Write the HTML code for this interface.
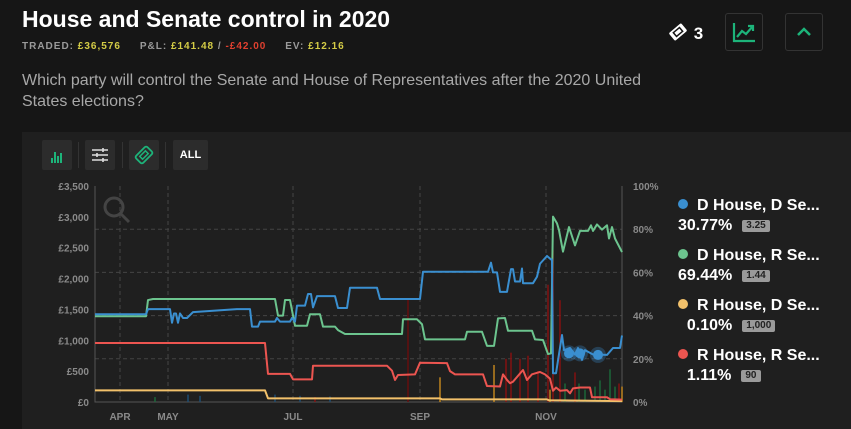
<!DOCTYPE html>
<html><head><meta charset="utf-8"><style>
body{margin:0;width:851px;height:429px;background:#161616;font-family:"Liberation Sans",sans-serif;overflow:hidden;position:relative;color:#fff}
.abs{position:absolute}
h1{position:absolute;left:22px;top:6px;margin:0;font-size:23px;font-weight:bold;color:#fff}
.stats{left:22px;top:41px;font-size:10px;font-weight:bold;letter-spacing:1px;color:#9a9a9a}
.y{color:#d4cc46}.r{color:#e0402f}
.desc{left:22px;top:70px;font-size:16px;color:#a8a8a8;line-height:21px;width:640px}
.btn{width:38px;height:38px;border:1px solid #333;border-radius:3px;box-sizing:border-box}
.panel{left:22px;top:132px;width:829px;height:297px;background:#1f1f1f}
.tb{top:140px;width:30px;height:30px;background:#2c2c2c;border-radius:2px}
.sep{top:142px;width:1px;height:26px;background:#333}
.leg{font-weight:bold;font-size:16px;color:#fff;line-height:20px}
.dot{display:inline-block;width:10px;height:10px;border-radius:50%;margin-right:9px;vertical-align:1px}
.badge{display:inline-block;background:#9a9a9a;color:#222;font-size:10px;padding:0 4px;border-radius:2px;line-height:12px;vertical-align:middle;margin-left:10px}
</style></head><body>
<h1>House and Senate control in 2020</h1>
<div class="abs stats">TRADED: <span class="y">£36,576</span>&nbsp;&nbsp;&nbsp;&nbsp; P&amp;L: <span class="y">£141.48</span> / <span class="r">-£42.00</span>&nbsp;&nbsp;&nbsp;&nbsp; EV: <span class="y">£12.16</span></div>
<div class="abs desc">Which party will control the Senate and House of Representatives after the 2020 United States elections?</div>
<div class="abs" style="left:667px;top:22px;font-size:17px;font-weight:bold"><svg width="22" height="20" viewBox="0 0 22 20" style="vertical-align:-3px"><g transform="rotate(-40 11 10)"><rect x="3" y="5" width="16" height="10" rx="1.5" fill="#fff"/><rect x="7" y="7.5" width="8" height="5" fill="none" stroke="#161616" stroke-width="1.5"/></g></svg> 3</div>
<div class="abs btn" style="left:725px;top:13px"><svg width="36" height="36"><path d="M8 9V27H29" stroke="#1db47a" stroke-width="2.2" fill="none"/><path d="M11 23L16 17L20 20L27 12M22 12H27V17" stroke="#1db47a" stroke-width="2.2" fill="none"/></svg></div>
<div class="abs btn" style="left:785px;top:13px"><svg width="36" height="36"><path d="M12 21L18 15L24 21" stroke="#1db47a" stroke-width="2.5" fill="none"/></svg></div>
<div class="abs panel"></div>
<div class="abs tb" style="left:42px"><svg width="30" height="30"><g fill="#1db47a"><rect x="9" y="18" width="2" height="5"/><rect x="12" y="12" width="2" height="11"/><rect x="15" y="16" width="2" height="7"/><rect x="18" y="13" width="2" height="10"/></g></svg></div>
<div class="abs sep" style="left:78px"></div>
<div class="abs tb" style="left:85px"><svg width="30" height="30"><g stroke="#ddd" stroke-width="1.6"><path d="M7 10H23M7 15H23M7 20H23"/><path d="M18 8V12M12 13V17M18 18V22"/></g></svg></div>
<div class="abs sep" style="left:122px"></div>
<div class="abs tb" style="left:129px"><svg width="30" height="30"><g transform="rotate(-45 15 15)"><rect x="7" y="10" width="16" height="10" rx="2" fill="none" stroke="#1db47a" stroke-width="1.8"/><rect x="11" y="13" width="8" height="4" fill="none" stroke="#1db47a" stroke-width="1.5"/></g></svg></div>
<div class="abs sep" style="left:165px"></div>
<div class="abs tb" style="left:173px;width:35px;font-size:11px;font-weight:bold;line-height:30px;text-align:center">ALL</div>

<svg id="chart" class="abs" style="left:0;top:0" width="851" height="429"></svg>

<div class="abs" style="left:678px;top:196px">
<div class="leg"><span class="dot" style="background:#3a8fd0"></span>D House, D Se...<br>30.77%<span class="badge">3.25</span></div>
<div class="leg" style="margin-top:10px"><span class="dot" style="background:#6cc48e"></span>D House, R Se...<br>69.44%<span class="badge">1.44</span></div>
<div class="leg" style="margin-top:10px"><span class="dot" style="background:#f2c16b"></span>R House, D Se...<br>&nbsp;&nbsp;0.10%<span class="badge">1,000</span></div>
<div class="leg" style="margin-top:10px"><span class="dot" style="background:#ec5550"></span>R House, R Se...<br>&nbsp;&nbsp;1.11%<span class="badge">90</span></div>
</div>

<script>
const monthLabels=["APR","MAY","JUL","SEP","NOV"];
const monthT=[25,73,198,325,451];
const leftTicks=["£0","£500","£1,000","£1,500","£2,000","£2,500","£3,000","£3,500"];
const leftVals=[0,500,1000,1500,2000,2500,3000,3500];
const rightTicks=["0%","20%","40%","60%","80%","100%"];
const rightVals=[0,20,40,60,80,100];
const blueT=[0,51,53,75,77,79,81,83,85,88,92,98,142,155,157,163,165,180,182,185,195,197,200,202,210,213,216,218,222,240,243,252,255,282,285,325,328,393,396,398,402,405,412,416,418,420,425,427,428,438,442,445,452,456,457,458,461,467,469,475,480,483,487,490,498,512,518,525,527];
const blueV=[40.6,40.6,43,43,36.7,41,41,36.7,41,38.9,38.9,41.6,43,43,34.9,34.9,37.2,37.2,38.9,37.2,37.2,38.9,37.2,44.6,44.6,50,50,43.8,49,49,43.5,43.5,52.9,52.9,47.7,47.7,60.3,60.3,64.5,60,60,51,51,61.5,61.5,55.8,55.8,61.8,55,55,58,64,67.6,66,66,13.3,13.3,31,24,25,22,25,19.5,24,22,21.8,25,25,30.8];
const greenT=[0,51,53,58,180,183,188,190,195,200,212,215,225,228,240,243,250,307,308,322,327,330,370,372,387,392,399,403,410,413,437,440,448,453,456,458,462,464,468,474,480,485,493,496,498,502,507,512,514,517,520,527];
const greenV=[39.7,39.7,47.2,47.7,47.7,40,40,47.2,47.2,35.3,35.3,40.6,40.6,34.9,34.9,33.3,31.5,31.5,38.3,38.3,36,29,29,32.5,32.5,26,26,38.7,38.9,33,33,29,28.7,22.2,22.5,85.8,82.7,79.6,69.6,81,72.5,79.2,79.2,81.8,79.2,82.2,79.8,81.8,75.7,81,75.7,69.4];
const redT=[0,170,173,195,198,217,218,292,297,300,303,320,325,352,355,360,388,392,405,408,412,415,418,428,432,437,445,450,455,458,461,465,472,475,478,485,495,497,512,515,527];
const redV=[27.3,27.3,13,13,10.5,10.5,16.8,16.8,14.5,10.2,12.5,12.8,18.2,18,14.3,12.8,12.8,7.4,7.2,12.8,10.2,8.7,9.4,14.8,10.2,12.8,13.9,12.8,10.8,5.2,6.7,5.2,5.5,4,6.3,6.7,6.7,2.2,2.2,1.3,1.1];
const yellowT=[0,170,173,345,347,452,454,527];
const yellowV=[5.4,5.4,1.7,1.7,1.2,1.2,0.8,0.4];
const volT=[313,345,399,411,416,425,433,443,453,455,458,465,470,480,484,490,500,505,510,515,520,524,527,60,93,105,180,205,220,235];
const volV=[1680,400,600,700,800,700,750,500,1900,200,2460,1650,300,480,300,200,250,350,200,530,250,300,250,80,120,100,120,100,80,90];
const volC=["#6a0d0d","#c98a1e","#c98a1e","#8a0f0f","#8a0f0f","#8a0f0f","#8a0f0f","#8a0f0f","#8a0f0f","#c98a1e","#8a0f0f","#8a0f0f","#1b6b3a","#8a0f0f","#1b6b3a","#1b6b3a","#1b6b3a","#1b6b3a","#1b6b3a","#1b6b3a","#1b6b3a","#8a0f0f","#c98a1e","#1b6b3a","#1d4f77","#1d4f77","#1d4f77","#1d4f77","#8a0f0f","#1d4f77"];
const dotT=[474,485,503];
const dotV=[22.5,22.5,21.8];

const X0=95,X1=622,Y0=402,Y1=186;
const xs=t=>X0+t*(X1-X0)/527;
const yp=p=>Y0-p*(Y0-Y1)/100;
const yl=v=>Y0-v*(Y0-Y1)/3500;
const svg=document.getElementById('chart');
const NS='http://www.w3.org/2000/svg';
function mk(tag,attrs){const e=document.createElementNS(NS,tag);for(const k in attrs)e.setAttribute(k,attrs[k]);svg.appendChild(e);return e;}
rightVals.forEach((v,i)=>{
 if(v>0&&v<100){const g=mk('line',{x1:X0,x2:X1,y1:yp(v),y2:yp(v),stroke:'#444','stroke-dasharray':'4,3'});
 
 }
 const t=mk('text',{x:633,y:yp(v)+4,fill:'#8a8a8a','font-size':10,'font-weight':'bold'});t.textContent=rightTicks[i];
 
 
});
leftVals.forEach((v,i)=>{
 const t=mk('text',{x:89,y:yl(v)+4,fill:'#8a8a8a','font-size':10,'font-weight':'bold','text-anchor':'end'});t.textContent=leftTicks[i];
 
 
});
monthT.forEach((m,i)=>{
 const g=mk('line',{x1:xs(m),x2:xs(m),y1:Y1,y2:Y0,stroke:'#444','stroke-dasharray':'4,3'});
 
 
 const t=mk('text',{x:xs(m),y:420,fill:'#8a8a8a','font-size':10,'font-weight':'bold','text-anchor':'middle'});t.textContent=monthLabels[i];
 
 
});
const ax=mk('path',{d:`M${X0} ${Y1}V${Y0}H${X1}V${Y1}`,stroke:'#555',fill:'none'});


const zm=mk('g',{stroke:'#444','stroke-width':3,fill:'none'});
zm.innerHTML='<circle cx="114" cy="207" r="9"/><line x1="121" y1="214" x2="129" y2="222"/>';


volT.forEach((t,i)=>{
 const b=mk('rect',{x:xs(t)-0.7,y:yl(volV[i]),width:1.4,height:Y0-yl(volV[i]),fill:volC[i]});
 
 
});
function line(T,V,c,name){
 const p=mk('polyline',{points:T.map((t,i)=>xs(t)+','+yp(V[i])).join(' '),stroke:c,'stroke-width':2,fill:'none','stroke-linejoin':'round'});
 
 
}
line(yellowT,yellowV,'#f2c16b','series-r-house-d-senate');
line(redT,redV,'#ec5550','series-r-house-r-senate');
line(greenT,greenV,'#6cc48e','series-d-house-r-senate');
line(blueT,blueV,'#3a8fd0','series-d-house-d-senate');
dotT.forEach((t,i)=>{
 const h=mk('circle',{cx:xs(t),cy:yp(dotV[i]),r:8,fill:'#3a8fd0','fill-opacity':0.3});
 
 
 const d=mk('circle',{cx:xs(t),cy:yp(dotV[i]),r:5,fill:'#3a8fd0'});
 
 
});
</script>
</body></html>
